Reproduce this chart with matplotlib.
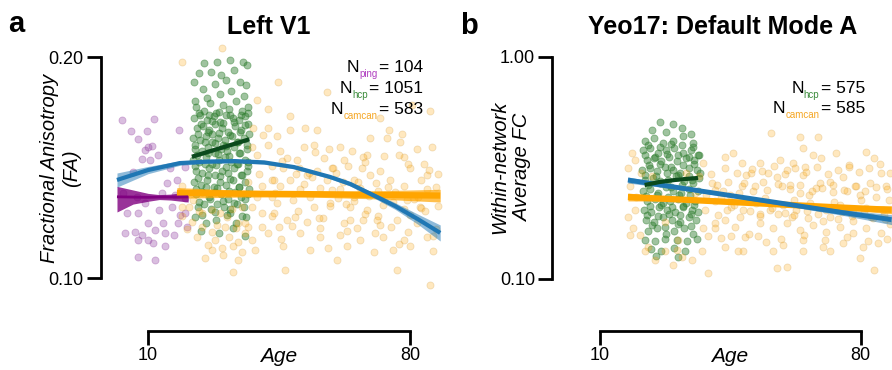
import numpy as np
import matplotlib
matplotlib.use("Agg")
import matplotlib.pyplot as plt
from matplotlib.ticker import NullLocator

plt.rcParams["font.family"] = ["Liberation Sans", "DejaVu Sans"]

# ---- panel a: Left V1, fractional anisotropy ----
ping_age = [3.0, 11.6, 5.5, 9.7, 7.2, 18.3, 10.1, 11.0, 12.6, 8.3, 10.5, 6.1, 15.9, 15.0, 17.7,
            19.9, 9.2, 12.8, 7.4, 16.3, 18.5, 19.9, 10.1, 14.1, 3.9, 6.5, 8.3, 7.4, 10.1, 11.9,
            14.5, 16.8, 20.3, 18.1, 11.4, 14.5, 7.4, 11.9, 4.3, 3.4, 17.2, 19.9, 9.2, 13.7, 7.0]
ping_fa = [.164, .1646, .1588, .1588, .1547, .1591, .1507, .1513, .1471, .1451, .1448, .1396, .1411, .1346, .1360,
           .1418, .1264, .1238, .1225, .1250, .1219, .1225, .1187, .1187, .1150, .1156, .1144, .1127, .1127, .1162,
           .1150, .1144, .1175, .1187, .1116, .1104, .1069, .1058, .1225, .1304, .1297, .1284, .1494, .1304, .1290]

hcp_a_age = [25.0, 28.3, 31.8, 35.3, 36.4, 23.5, 26.7, 29.6, 33.0, 22.3, 27.9, 30.8, 34.6, 36.2, 24.6, 32.2, 25.8, 29.2, 35.5, 22.6,
             22.8, 24.9, 26.6, 28.1, 30.0, 31.6, 33.4, 35.2, 36.7,
             22.2, 23.9, 25.7, 27.5, 29.3, 30.9, 32.7, 34.4, 36.0,
             23.0, 24.6, 26.4, 28.0, 29.8, 31.4, 33.2, 34.9, 36.6, 27.0,
             22.1, 23.8, 25.4, 27.2, 28.7, 30.5, 32.3, 33.9, 35.7, 30.0,
             22.6, 24.3, 26.0, 27.8, 29.5, 31.1, 32.9, 34.6, 36.3,
             22.0, 23.7, 25.5, 27.1, 28.9, 30.6, 32.2, 34.0, 35.8, 36.8,
             22.9, 24.4, 26.2, 28.0, 29.7, 31.4, 33.0, 34.8, 36.4,
             22.3, 24.0, 25.8, 27.5, 29.2, 30.8, 32.6, 34.3, 36.0,
             22.7, 24.5, 26.3, 27.9, 29.6, 31.3, 33.1, 34.8, 36.6,
             23.2, 25.0, 26.8, 28.5, 30.3, 32.0, 33.7, 35.5,
             22.5, 25.6, 28.2, 31.0, 33.5, 36.2,
             24.2, 29.0, 32.8, 35.9,
             23.6, 26.2, 29.0, 31.9, 34.7, 36.8,
             24.0, 27.0, 30.1, 33.0, 35.9,
             23.3, 26.0, 28.9, 31.8, 34.5, 36.9,
             22.4, 25.1, 28.0, 30.9, 33.7, 36.5,
             23.1, 25.9, 28.6, 31.6, 34.4,
             22.5, 25.3, 28.2, 30.9, 33.8, 36.6,
             23.4, 26.1, 29.1, 32.0, 35.0,
             22.8, 25.6, 28.5, 31.5, 34.2, 36.9,
             23.6, 26.6, 29.9, 33.0, 35.8,
             24.4, 27.8, 31.8, 35.0]
hcp_a_fa = [.196, .197, .198, .197, .195, .190, .191, .189, .192, .185, .184, .186, .185, .183, .181, .180, .176, .178, .177, .174,
            .171, .169, .173, .168, .172, .170, .174, .169, .171,
            .165, .167, .164, .166, .163, .167, .165, .164, .166,
            .160, .161, .159, .162, .160, .158, .161, .159, .162, .157,
            .155, .154, .156, .153, .155, .154, .156, .153, .155, .152,
            .150, .149, .151, .148, .150, .149, .151, .148, .150,
            .145, .144, .146, .143, .145, .146, .144, .143, .145, .144,
            .140, .139, .141, .138, .140, .139, .141, .138, .140,
            .135, .134, .136, .133, .135, .134, .136, .133, .135,
            .130, .131, .129, .131, .130, .128, .131, .129, .130,
            .125, .126, .124, .126, .125, .124, .126, .125,
            .121, .119, .120, .122, .119, .121,
            .116, .115, .117, .114,
            .168, .1665, .1685, .167, .1665, .168,
            .162, .1635, .1625, .163, .1615,
            .157, .158, .1575, .1565, .158, .157,
            .152, .153, .1525, .1515, .153, .152,
            .147, .148, .1475, .1465, .148,
            .142, .143, .1425, .1415, .143, .142,
            .137, .138, .1375, .1365, .138,
            .132, .133, .1325, .1315, .133, .132,
            .127, .128, .1275, .1265, .128,
            .122, .123, .1225, .1215]

camcan_a_age = [47.9, 47.9, 52.0, 55.1, 44.4, 45.3, 51.5, 54.2, 58.2, 61.3, 64.4, 69.3, 73.8, 77.8, 77.3,
                81.8, 85.8, 72.0, 74.2, 68.4, 78.2, 83.6, 49.7, 62.2, 67.5, 46.1, 55.1, 59.5, 72.0, 80.0,
                84.4, 47.9, 52.4, 57.8, 64.9, 69.3, 74.7, 45.3, 50.6, 56.0, 61.3, 66.6, 78.2, 84.4, 44.4,
                48.8, 54.2, 58.6, 64.0, 68.4, 72.8, 78.2, 82.7, 47.1, 52.4, 56.8, 62.2, 67.5, 72.0, 76.5,
                81.8, 50.6, 56.0, 61.3, 66.6, 72.8, 78.2, 84.4, 46.1, 53.3, 63.1, 70.2, 75.5, 80.0, 86.2,
                60.4, 76.5, 46.6, 85.3, 43.5, 43.5, 64.9, 53.3,
                39.0, 42.1, 38.1, 42.1, 40.8, 42.1, 37.7, 39.0, 43.1, 39.5, 36.8, 40.4, 43.1, 37.7, 40.4,
                43.1, 19.0, 20.8, 19.0, 21.7, 24.3, 27.0, 29.2, 32.4, 35.0, 24.3, 27.0, 30.6, 34.1, 36.8,
                40.4, 42.1, 23.0, 27.9, 31.5, 34.1, 37.7, 27.0, 29.7, 32.8, 35.0, 38.6, 34.1, 32.8, 19.0,
                22.1, 43.1, 39.0,
                45.8, 50.2, 53.9, 57.1, 60.2, 63.5, 66.0, 70.9, 73.1, 76.0, 79.3, 82.1, 85.0, 87.4, 48.3,
                51.7, 55.6, 59.0, 62.8, 65.7, 68.9, 71.4, 74.9, 79.0, 83.0, 86.8, 44.9, 49.1, 58.0, 63.9,
                70.5, 77.0, 81.0, 87.0, 60.8, 67.9,
                29.8, 19.0, 44.7, 57.8, 85.3, 80.5,
                44.0, 47.0, 50.0, 53.0, 56.0, 59.0, 62.0, 65.0, 68.0, 71.0, 74.0, 77.0, 80.0, 83.0, 86.0,
                45.5, 49.5, 54.5, 58.5, 63.0, 67.0, 71.5, 75.5, 79.5, 84.0, 87.5,
                20.5, 23.5, 26.0, 28.5, 31.0, 33.5, 36.0, 25.2, 30.0, 35.8]
camcan_a_fa = [.166, .159, .160, .159, .156, .149, .151, .152, .150, .151, .149, .155, .155, .157, .153,
               .150, .151, .165, .159, .147, .146, .143, .145, .145, .146, .141, .140, .141, .140, .141,
               .138, .136, .138, .136, .136, .138, .136, .1333, .132, .1325, .132, .1325, .1333, .132, .1264,
               .1277, .125, .1264, .125, .1238, .1257, .1243, .125, .120, .1193, .1206, .1187, .120, .1181, .120,
               .1187, .115, .1137, .1144, .1127, .1137, .1127, .1137, .1104, .1092, .1104, .1084, .1092, .1104, .1088,
               .1058, .1025, .1025, .0978, .136, .1226, .129, .129,
               .1747, .170, .160, .160, .1566, .152, .151, .147, .142, .1386, .135, .1333, .136, .125, .1225,
               .1213, .1333, .125, .1213, .1193, .1225, .1238, .1225, .1243, .125, .1175, .1156, .1175, .1187, .1175,
               .1175, .115, .1137, .1127, .1137, .112, .1127, .1092, .1098, .1104, .1084, .1092, .1058, .102, .125,
               .1277, .129, .129,
               .1445, .1412, .1372, .1455, .1388, .1421, .1352, .1347, .1468, .1309, .1431, .1290, .1402, .1255, .1178,
               .1342, .1208, .1316, .1262, .1168, .1295, .1213, .1172, .1276, .1245, .1165, .1172, .1212, .1100, .1198,
               .1151, .1112, .1281, .1330, .1285, .1222,
               .206, .197, .185, .179, .169, .172,
               .1305, .1455, .1235, .1390, .1168, .1410, .1352, .1275, .1438, .1200, .1330, .1472, .1218, .1358, .1142,
               .1130, .1385, .1485, .1255, .1160, .1410, .1312, .1270, .1155, .1235, .1385,
               .1165, .1232, .1110, .1180, .1210, .1170, .1190, .1065, .1075, .1150]

# fitted curves (centre and confidence half-width)
blue_a_age = [1.7, 10, 18.5, 26, 33.2, 41, 49, 58.6, 64, 70.1, 76, 82, 88]
blue_a_fa = [.1360, .1403, .1434, .1441, .1443, .1437, .1416, .1373, .1343, .1297, .1253, .1203, .1152]
blue_a_ci = [.0030, .0016, .0010, .0008, .0008, .0008, .0008, .0008, .0009, .0010, .0013, .0019, .0029]

ping_fit_age = [1.7, 6, 10, 13, 16, 20.7]
ping_fit_fa = [.1290, .1289, .1288, .1289, .1289, .1290]
ping_fit_lo = [.1230, .1261, .1272, .1279, .1277, .1269]
ping_fit_hi = [.1333, .1318, .1304, .1299, .1301, .1310]

hcp_fit_a_age = [21.7, 37.0]
hcp_fit_a_fa = [.1463, .1545]
hcp_fit_a_ci = [.0008, .0008]

camcan_fit_a_age = [17.7, 35, 53, 70, 88]
camcan_fit_a_fa = [.1306, .1303, .1301, .1298, .1295]
camcan_fit_a_ci = [.0022, .0014, .0012, .0016, .0026]

# ---- panel b: Yeo17 Default Mode A, within-network FC ----
hcp_b_age = [26.0, 29.5, 24.0, 32.0, 27.8, 34.5,
             22.0, 24.5, 27.0, 29.6, 32.3, 35.0,
             21.6, 23.4, 25.6, 27.8, 30.0, 32.2, 34.4, 36.2,
             22.5, 24.4, 26.5, 28.6, 30.8, 33.0, 35.2,
             21.4, 23.3, 25.2, 27.4, 29.5, 31.6, 33.8, 36.0,
             22.2, 24.2, 26.2, 28.3, 30.5, 32.6, 34.8, 36.6,
             21.5, 23.5, 25.5, 27.6, 29.7, 31.8, 34.0, 36.2,
             22.6, 24.7, 26.8, 28.9, 31.0, 33.2, 35.4,
             21.8, 23.8, 25.9, 28.0, 30.2, 32.4, 34.6, 36.4,
             22.4, 24.6, 27.0, 29.3, 31.5, 33.8, 35.9,
             23.0, 25.3, 27.7, 30.0, 32.6, 35.0,
             22.0, 24.8, 27.4, 30.6, 33.4, 36.0,
             23.6, 26.4, 29.8, 32.8,
             25.0, 31.0,
             23.0, 26.0, 29.0, 32.0, 35.0,
             22.0, 24.9, 27.9, 30.9, 33.9, 36.5,
             23.2, 26.2, 29.2, 32.2, 35.3,
             22.0, 25.0, 28.0, 31.0, 34.0, 36.8,
             23.0, 26.0, 29.0, 32.0, 35.0,
             22.3, 25.3, 28.3, 31.3, 34.3,
             23.3, 26.3, 29.3, 32.3, 35.3,
             22.5, 25.5, 28.5, 31.5, 34.5,
             24.0, 27.5, 31.0, 34.5]
hcp_b_fc = [.51, .50, .47, .48, .46, .45,
            .42, .43, .41, .42, .44, .41,
            .38, .39, .37, .38, .39, .37, .38, .36,
            .345, .35, .34, .355, .34, .35, .345,
            .31, .315, .305, .32, .31, .30, .315, .31,
            .28, .285, .275, .28, .29, .275, .28, .285,
            .25, .255, .245, .26, .25, .245, .255, .25,
            .225, .23, .22, .225, .23, .22, .225,
            .205, .20, .21, .205, .20, .21, .205, .20,
            .185, .18, .19, .185, .18, .19, .185,
            .165, .17, .16, .165, .17, .16,
            .15, .148, .152, .15, .148, .152,
            .136, .133, .138, .134,
            .127, .125,
            .40, .395, .405, .40, .395,
            .36, .355, .365, .36, .355, .36,
            .325, .33, .32, .325, .33,
            .295, .29, .30, .295, .29, .30,
            .265, .27, .26, .265, .27,
            .237, .24, .235, .238, .24,
            .213, .215, .21, .213, .216,
            .195, .193, .197, .194, .196,
            .175, .172, .177, .174]

camcan_b_age = [18.5, 17.6, 18.0, 17.6, 18.9, 18.0, 20.7, 22.9, 27.4, 30.6, 34.6, 37.3, 39.0, 37.7, 39.0,
                38.2, 40.8, 37.7, 39.9, 43.5, 43.5, 45.7, 48.0, 40.8, 43.5, 46.2, 42.6, 45.3, 48.9, 47.1,
                48.4, 43.5, 40.8, 44.4, 48.0, 49.3, 45.3, 48.4, 42.6, 24.7, 31.9, 29.7, 22.1, 19.4, 19.8, 19.4,
                56.0, 63.6, 68.5, 64.5, 52.9, 55.1, 58.3, 60.1, 61.8, 65.0, 67.2, 69.4, 73.5, 77.0, 81.5,
                83.7, 85.5, 86.9, 53.8, 57.4, 61.0, 64.5, 68.1, 71.7, 75.3, 78.8, 82.4, 52.0, 55.6, 59.2,
                62.7, 66.3, 70.8, 74.4, 77.9, 81.5, 86.0, 52.9, 56.5, 60.1, 63.6, 67.2, 70.8, 74.4, 77.9,
                81.5, 85.5, 54.7, 59.2, 64.5, 69.9, 75.3, 80.6, 84.6, 56.5, 64.5, 71.7, 79.7, 60.1, 57.4,
                83.7, 63.6, 79.7, 72.6,
                51.0, 54.2, 58.9, 62.0, 66.0, 69.0, 72.9, 76.2, 80.0, 84.0, 87.5, 53.0, 57.9, 61.5, 65.8,
                70.0, 73.8, 78.0, 82.9, 86.5, 50.5, 88.0,
                21.0, 24.0, 27.5, 31.0, 35.5, 38.5, 41.5, 44.8, 47.6, 36.5, 41.0, 46.8, 49.5, 33.0,
                50.8, 53.5, 56.8, 59.8, 62.4, 65.3, 68.2, 71.1, 73.9, 76.8, 79.6, 82.3, 85.1, 87.8,
                51.6, 54.8, 57.9, 60.9, 63.8, 66.9, 69.7, 72.5, 75.6, 78.5, 81.2, 84.2, 87.0,
                50.2, 53.1, 56.1, 59.6, 62.2, 65.5, 68.6, 71.9, 74.9, 77.6, 80.9, 83.4, 86.3,
                52.3, 58.6, 64.8, 70.3, 76.4, 82.0, 87.2,
                40.2, 42.9, 46.0, 48.6, 41.6, 44.2, 47.3, 49.9]
camcan_b_fc = [.368, .315, .261, .191, .169, .158, .158, .140, .133, .135, .122, .134, .106, .169, .156,
               .205, .2235, .332, .297, .356, .315, .368, .332, .178, .185, .1715, .1537, .156, .155, .134,
               .133, .140, .252, .2745, .261, .2935, .2115, .205, .235, .122, .126, .116, .133, .205, .235, .344,
               .453, .438, .438, .388, .332, .299, .344, .31, .332, .3206, .362, .35, .368, .326, .373,
               .35, .299, .261, .2745, .288, .265, .2935, .2565, .2745, .288, .261, .2705, .2193, .205, .2154,
               .205, .219, .205, .2154, .198, .208, .205, .178, .169, .178, .166, .175, .163, .172, .1606,
               .169, .1606, .147, .142, .150, .140, .145, .140, .145, .133, .133, .134, .124, .1136, .1117,
               .110, .243, .239, .247,
               .248, .232, .262, .228, .238, .270, .222, .250, .228, .235, .226, .192, .196, .190, .188,
               .183, .186, .182, .190, .187, .300, .176,
               .300, .290, .180, .150, .245, .240, .265, .240, .190, .290, .170, .300, .225, .300,
               .312, .305, .322, .298, .315, .302, .318, .296, .309, .321, .304, .316, .328, .300,
               .262, .251, .268, .255, .264, .249, .258, .266, .252, .262, .248, .259, .253,
               .203, .197, .208, .199, .194, .202, .196, .190, .201, .193, .199, .188, .195,
               .156, .152, .158, .150, .154, .149, .152,
               .27, .25, .215, .27, .195, .205, .245, .16]

blue_b_age = [17.5, 30, 45, 60, 75, 88.3]
blue_b_fc = [.279, .2595, .2377, .2177, .1993, .185]
blue_b_lo = [.2705, .2546, .2335, .2132, .1937, .1757]
blue_b_hi = [.288, .2645, .2420, .2223, .2050, .1948]

camcan_fit_b_age = [17.5, 30, 45, 60, 75, 88.3]
camcan_fit_b_fc = [.2340, .2286, .2222, .2159, .2097, .2049]
camcan_fit_b_lo = [.2246, .2240, .2182, .2120, .2054, .1966]
camcan_fit_b_hi = [.2438, .2333, .2263, .2199, .2141, .2135]

hcp_fit_b_age = [22, 26, 30, 33, 36.3]
hcp_fit_b_fc = [.265, .2734, .279, .2821, .2851]

# colours
BLUE = "#1f77b4"
ORANGE = "#ffa500"
ORANGE_EDGE = "#c98f2e"
GREEN = "#2a7a2a"
DKGREEN = "#0b4a1c"
PURPLE = "#8e3a9e"
DKPURPLE = "#800080"

W, H = 892, 370
fig = plt.figure(figsize=(W / 100, H / 100), dpi=100)


def fx(px):
    return px / W


def fy(py):
    return 1 - py / H


ax_a = fig.add_axes([fx(100.5), fy(330.5), (447.7 - 100.5) / W, (330.5 - 41) / H])
ax_b = fig.add_axes([fx(551.7), fy(330.5), (897.9 - 551.7) / W, (330.5 - 41) / H])


def style(ax, xlim, ylim, yticks, ylabels):
    ax.set_yscale("log")
    ax.set_xlim(*xlim)
    ax.set_ylim(*ylim)
    for s in ["top", "right"]:
        ax.spines[s].set_visible(False)
    ax.spines["left"].set_bounds(yticks[0], yticks[-1])
    ax.spines["bottom"].set_bounds(10, 80)
    ax.spines["left"].set_linewidth(2)
    ax.spines["bottom"].set_linewidth(2)
    ax.set_xticks([10, 80])
    ax.set_xticklabels(["10", "80"])
    ax.set_yticks(yticks)
    ax.set_yticklabels(ylabels)
    ax.yaxis.set_minor_locator(NullLocator())
    ax.tick_params(length=10, width=2, labelsize=13, direction="out")
    ax.tick_params(axis="x", pad=2)
    ax.tick_params(axis="y", pad=2)
    ax.patch.set_alpha(0)


def dots(ax, x, y, color, alpha=0.3, edge=None):
    ax.scatter(x, y, s=26, color=color, alpha=alpha, edgecolors=edge or color, linewidths=0.6, zorder=2)


def fit(ax, x, y, lo, hi, color, lw, z, band_alpha=0.5):
    ax.fill_between(x, lo, hi, color=color, alpha=band_alpha, lw=0, zorder=z)
    ax.plot(x, y, color=color, lw=lw, zorder=z + 0.1, solid_capstyle="butt")


style(ax_a, (-2.7, 90), (0.08482, 0.2103), [0.1, 0.2], ["0.10", "0.20"])
style(ax_b, (-2.97, 90), (0.0586, 1.18), [0.1, 1.0], ["0.10", "1.00"])

# panel a
dots(ax_a, ping_age, ping_fa, PURPLE, 0.33)
dots(ax_a, hcp_a_age, hcp_a_fa, GREEN, 0.45)
dots(ax_a, camcan_a_age, camcan_a_fa, ORANGE, 0.25, ORANGE_EDGE)

a = np.array(camcan_fit_a_fa)
fit(ax_a, camcan_fit_a_age, a, a - camcan_fit_a_ci, a + camcan_fit_a_ci, ORANGE, 4.5, 3, 0.7)
fit(ax_a, ping_fit_age, ping_fit_fa, ping_fit_lo, ping_fit_hi, DKPURPLE, 2, 3, 0.8)
a = np.array(hcp_fit_a_fa)
fit(ax_a, hcp_fit_a_age, a, a - hcp_fit_a_ci, a + hcp_fit_a_ci, DKGREEN, 3, 3)
a = np.array(blue_a_fa)
fit(ax_a, blue_a_age, a, a - blue_a_ci, a + blue_a_ci, BLUE, 3, 4)

# panel b
dots(ax_b, hcp_b_age, hcp_b_fc, GREEN, 0.45)
dots(ax_b, camcan_b_age, camcan_b_fc, ORANGE, 0.25, ORANGE_EDGE)
fit(ax_b, camcan_fit_b_age, camcan_fit_b_fc, camcan_fit_b_lo, camcan_fit_b_hi, ORANGE, 4.5, 3, 0.7)
fit(ax_b, blue_b_age, blue_b_fc, blue_b_lo, blue_b_hi, BLUE, 3.5, 4)
b = np.array(hcp_fit_b_fc)
fit(ax_b, hcp_fit_b_age, b, b / 1.01, b * 1.01, DKGREEN, 3, 5)


def n_label(ax, x_px, y_px, sub, color, value):
    eq = fig.text(fx(x_px), fy(y_px), f"= {value}", ha="right", va="baseline", fontsize=12.5)
    s = ax.annotate(sub, xy=(0, 0), xycoords=eq, xytext=(-1, -3), textcoords="offset points",
                    ha="right", va="bottom", fontsize=7, color=color, annotation_clip=False)
    ax.annotate("N", xy=(0, 0), xycoords=(s, eq), ha="right", va="bottom", fontsize=12.5,
                annotation_clip=False)


n_label(ax_a, 423, 72, "ping", "#b040c0", 104)
n_label(ax_a, 423, 93, "hcp", "#3c8c3c", 1051)
n_label(ax_a, 423, 114, "camcan", "#f5a623", 583)
n_label(ax_b, 865, 93, "hcp", "#3c8c3c", 575)
n_label(ax_b, 865, 113, "camcan", "#f5a623", 585)

# titles, panel letters, axis labels
fig.text(fx(268.5), fy(33.5), "Left V1", ha="center", va="baseline", fontsize=18, fontweight="bold")
fig.text(fx(722.5), fy(33.5), "Yeo17: Default Mode A", ha="center", va="baseline", fontsize=18,
         fontweight="bold")
fig.text(fx(8), fy(32), "a", ha="left", va="baseline", fontsize=21, fontweight="bold")
fig.text(fx(460), fy(33.5), "b", ha="left", va="baseline", fontsize=21, fontweight="bold")

fig.text(fx(60.5), fy(168), "Fractional Anisotropy\n(FA)", rotation=90, ha="center", va="center",
         fontsize=14.5, style="italic", multialignment="center", linespacing=1.25)
fig.text(fx(511), fy(167), "Within-network\nAverage FC", rotation=90, ha="center", va="center",
         fontsize=14.5, style="italic", multialignment="center", linespacing=1.25)
fig.text(fx(279), fy(362), "Age", ha="center", va="baseline", fontsize=15, style="italic")
fig.text(fx(730), fy(362), "Age", ha="center", va="baseline", fontsize=15, style="italic")

fig.savefig("out.png", dpi=100)
